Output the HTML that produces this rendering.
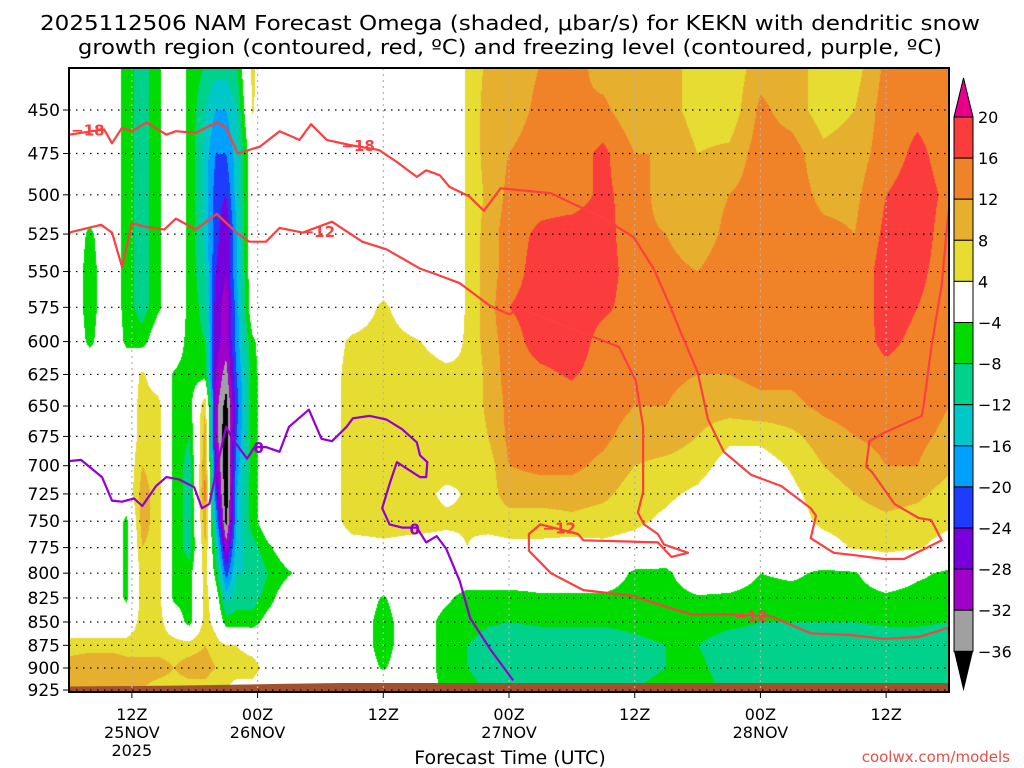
<!DOCTYPE html>
<html><head><meta charset="utf-8">
<style>
html,body{margin:0;padding:0;background:#fff;}
#wrap{position:relative;width:1024px;height:768px;overflow:hidden;font-family:"DejaVu Sans","Liberation Sans",sans-serif;}
canvas{position:absolute;left:69px;top:68px;}
svg{position:absolute;left:0;top:0;}
</style></head>
<body>
<div id="wrap">
<canvas id="shade" width="880" height="624"></canvas>
<svg id="ov" width="1024" height="768">
<text x="510" y="30" text-anchor="middle" font-size="20" textLength="940" lengthAdjust="spacingAndGlyphs">2025112506 NAM Forecast Omega (shaded, μbar/s) for KEKN with dendritic snow</text>
<text x="510" y="54" text-anchor="middle" font-size="20" textLength="864" lengthAdjust="spacingAndGlyphs">growth region (contoured, red, ºC) and freezing level (contoured, purple, ºC)</text>
<text x="510" y="764" text-anchor="middle" font-size="19">Forecast Time (UTC)</text>
<text x="1010" y="762" text-anchor="end" font-size="15" fill="#e0504a">coolwx.com/models</text>
<g id="grid"></g>
<g id="lines"></g>
<g id="axes"></g>
<g id="cbar"></g>
</svg>
</div>
<script>
// ---- data ----
const levels=[425,450,475,500,525,550,575,600,625,650,675,700,725,750,775,800,825,850,875,900,925];
const hours=[0,2,4,5.5,7,8.5,10,11.5,13,14,15,16,17.5,19,21,24,27,30,33,36,38,40,42,45,48,51,54,57,60,63,66,69,72,75,78,81,84];
const omegaCols=[
[0,0,0,0,0,0,0,0,0,0,0,0,0,0,0,0,0,0,6,10,10],
[0,0,0,0,-5,-6,-6,-5,0,0,0,0,0,0,0,0,0,0,6,12,10],
[0,0,0,0,0,0,0,0,0,0,0,0,0,0,0,0,0,0,6,12,10],
[-6,-6,-6,-6,-6,-6,-6,-5,0,0,0,0,0,-5,-5,-5,-5,0,6,10,8],
[-10,-10,-10,-10,-10,-10,-10,-6,5,6,6,8,10,10,8,6,6,6,6,10,8],
[-5,-5,-5,-5,-5,-5,-5,0,0,6,6,6,6,6,6,6,6,6,6,10,6],
[0,0,0,0,0,0,0,0,-4.5,-5,-5,-5,-5,-5,-5,-5,-5,0,6,8,6],
[-5,-5,-5,-5,-5,-5,-5,-6,-6,-6,-8,-10,-10,-10,-10,-6,-6,-6,6,10,6],
[-8,-12,-14,-14,-14,-12,-10,-8,-6,8,10,12,14,10,8,6,6,6,8,10,6],
[-10,-16,-20,-22,-22,-24,-26,-26,-28,-30,-30,-26,-22,-16,-10,-6,0,2,6,8,4],
[-10,-16,-20,-24,-28,-28,-30,-30,-34,-38,-40,-40,-40,-38,-30,-22,-14,-6,4,6,4],
[-8,-12,-14,-14,-16,-16,-18,-18,-20,-22,-20,-18,-16,-16,-14,-12,-10,-6,4,6,2],
[5,4.5,0,0,0,0,0,-5,-6,-6,-6,-6,-6,-6,-10,-12,-10,-6,2,6,2],
[0,0,0,0,0,0,0,0,0,0,0,0,0,0,-5,-8,-6,-2,0,2,0],
[0,0,0,0,0,0,0,0,0,0,0,0,0,0,0,-4.5,0,0,0,0,0],
[0,0,0,0,0,0,0,0,0,0,0,0,0,0,0,0,0,0,0,0,0],
[0,0,0,0,0,0,0,5,6,6,6,6,6,6,2,0,0,0,0,0,0],
[0,0,0,0,0,0,5,6,6,6,6,6,6,6,3,0,-4.5,-6,-6,-4.5,0],
[0,0,0,0,0,0,0,4.5,6,6,6,6,6,6,2,0,0,0,0,0,0],
[0,0,0,0,0,0,0,2,5,6,6,6,3,5,2,0,-3,-6,-6,-6,-5],
[4.5,4.5,4.5,4.5,4.5,4.5,4.5,4.5,4.5,4.5,4.5,4.5,4.5,4.5,4,0,-6,-6,-8,-8,-6],
[9,10,10,9,10,10,10,10,9,9,8,6,6,6,2,0,-6,-7.5,-10,-10,-9],
[10,10,12,13,14,14,16,14,14,13,13,12,10,6,3,0,-6,-8,-10,-10,-9],
[12,13,14,14,17,18,18,18,15,14,14,13,10,6,3,0,-5,-7.5,-10,-10,-9],
[14,12,14,14,18,19,19,19,16.5,14,14,13,10,7,2,0,-5,-7.5,-10,-10,-9],
[10,13,17,17,18,18,17,14,14,14,13,11,9,6,3,0,-5,-7.5,-10,-10,-9],
[8,9,12,14,13,14,14,14,13,12,10,8,6,5,2,-5,-6,-7,-9,-9,-8],
[10,10,12,10,12,13,14,14,13,12,10,7,5,3,0,-5,-6,-6,-8,-8,-7],
[6,6,8,10,10,12,13,13,12,10,8,6,3,0,0,0,-4.5,-6,-8,-7,-6],
[5,5,9,12,13,14,14,14,12,10,5,2,0,0,0,0,-5,-7,-10,-10,-9],
[10,13,14,14,14,14,14,14,13,11,5,2,0,0,0,-4,-6,-8,-10,-11,-9],
[10,10,14,14,14,15,14,14,13,11,7,4.5,3,2,0,-3,-6,-8,-10,-11,-9],
[6,6,9,11,13,14,14,14,14,13,10,8,6,5,2,-5,-6,-8,-10,-11,-9],
[6,8,10,11,12,13,13,14,14,14,12,10,8,6,4.5,-4.5,-6,-8,-10,-11,-9],
[13,14,14,16,17,18,18,17,15,14,13,12,10,7,5,0,-5,-7.5,-10,-10,-9],
[14,15,17,18,18,17,16,15,14,14,13,12,9,6,4.5,-3,-6,-7.5,-10,-10,-9],
[14,14,14,15,14,14,14,14,13,12,11,9,6,5,2,-5,-6,-8,-10,-10,-9]
];
const m18Hours=[0,3.35,4.1,5.07,6,7.4,9.3,10.2,12.1,14.1,15,16.1,18.2,20.1,22,23.1,24.6,26.8,29.6,31.3,33.2,34.1,35.4,36.3,38.2,39.6,41.2,46,50.8,53.9,55.8,57.2,58.7,60,61,62.5,65.1,68,70.8,71.3,70.8,73,74.7,77.8,79.7,83.3,82.3,81.1,78.8,76.6,76.1,76.4,77.8,81.4,81.6,82.3,83.3,83.9,84];
const m18Pres=[464,461,469,460,462,457,464,462,463,457,460,475,471,462,467,458,467,470,473,480,489,485,488,495,501,510,496,499,514,527,548,571,599,623,661,688,708,718,738,745,766,780,782,786,786,768,749,747,734,705,701,679,672,658,648,605,559,514,510];
const m12Hours=[0,3.06,4.1,5.07,6,7.8,9.1,10.2,12.1,14.1,16,17.2,18.8,20.1,22.3,25.1,28,30.3,33.5,35.1,37.3,40.2,42,43.1,52.5,54.1,54.8,54.8,54.3,54.9,56.2,56.8,59.1,57.5,56.2,49.1,48.6,45,43.9,43.9,46,49.1,53.9,55.5,59.4,62.9,67,70.8,74.7,77.8,81.1,84];
const m12Pres=[524,519,524,547,518,521,522,515,522,512,524,530,530,521,524,517,530,535,548,552,558,574,580,576,604,630,667,723,742,753,762,772,780,784,770,768,762,753,762,778,800,817,823,829,842,842,844,862,864,868,866,856];
const frzHours=[0,1.15,3.15,4.1,5.07,6.2,7,8.3,9.3,10.5,11.95,12.7,13.4,14.3,15,15.6,17,17.7,18.8,20.1,21,22.9,24.1,25.1,26.5,27.1,28.7,30.3,31.8,33.2,33.5,34.2,34.1,33.5,31.3,30.6,29.9,30.6,31.8,33.2,34.1,35.1,36,37.3,38.3,40.2,42.4];
const frzPres=[696,695,710,731,732,729,736,718,710,712,719,738,734,694,667,677,694,684,684,688,667,653,677,679,667,660,658,661,669,680,691,697,710,710,697,716,738,753,756,756,770,764,776,808,846,879,914];
const groundHours=[0,10,20,26,40,60,84];
const groundPres=[921,920,918,917,917,917,917];
const yTicks=[450,475,500,525,550,575,600,625,650,675,700,725,750,775,800,825,850,875,900,925];
const xTickHours=[6,18,30,42,54,66,78];
const xTickTimes=["12Z","00Z","12Z","00Z","12Z","00Z","12Z"];
const xTickDates=["25NOV","26NOV","","27NOV","","28NOV",""];
const cbarValues=[20,16,12,8,4,-4,-8,-12,-16,-20,-24,-28,-32,-36];
const cbarColors=["#fa3c3c","#f08228","#e6af2d","#e6dc32","#ffffff","#00dc00","#00d28c","#00c8c8","#00a0ff","#1e3cff","#7800dc","#a000c8","#a0a0a0"];

// ---- axes ----
const X0=69,X1=949,Y0=68,Y1=692;
const X=h=>X0+h*(X1-X0)/84;
const Y=p=>110+805*Math.log(p/450);
const NS="http://www.w3.org/2000/svg";
function mk(tag,parent){const e=document.createElementNS(NS,tag);parent.appendChild(e);return e;}

function colorFor(v){
  if(v>=20)return [230,0,138];
  if(v>=16)return [250,60,60];
  if(v>=12)return [240,130,40];
  if(v>=8)return [230,175,45];
  if(v>=4)return [230,220,50];
  if(v>-4)return [255,255,255];
  if(v>-8)return [0,220,0];
  if(v>-12)return [0,210,140];
  if(v>-16)return [0,200,200];
  if(v>-20)return [0,160,255];
  if(v>-24)return [30,60,255];
  if(v>-28)return [120,0,220];
  if(v>-32)return [160,0,200];
  if(v>-36)return [160,160,160];
  return [0,0,0];
}
// shading
(function(){
  const cv=document.getElementById('shade');const ctx=cv.getContext('2d');
  const W=cv.width,H=cv.height;const img=ctx.createImageData(W,H);
  const lnL=levels.map(Math.log);
  const hStep=84/(X1-X0);
  const rowIdx=[],rowT=[];
  for(let py=0;py<H;py++){
    const y=Y0+py+0.5;const lp=Math.log(450)+(y-110)/805;
    let j=0;while(j<lnL.length-2&&lp>lnL[j+1])j++;
    let t=(lp-lnL[j])/(lnL[j+1]-lnL[j]);t=Math.max(0,Math.min(1,t));
    rowIdx.push(j);rowT.push(t);
  }
  for(let px=0;px<W;px++){
    const h=(px+0.5)*hStep;
    let i=0;while(i<hours.length-2&&h>hours[i+1])i++;
    let s=(h-hours[i])/(hours[i+1]-hours[i]);s=Math.max(0,Math.min(1,s));
    const a=omegaCols[i],b=omegaCols[i+1];
    for(let py=0;py<H;py++){
      const j=rowIdx[py],t=rowT[py];
      const v0=a[j]*(1-t)+a[j+1]*t, v1=b[j]*(1-t)+b[j+1]*t;
      const c=colorFor(v0*(1-s)+v1*s);
      const k=(py*W+px)*4;img.data[k]=c[0];img.data[k+1]=c[1];img.data[k+2]=c[2];img.data[k+3]=255;
    }
  }
  ctx.putImageData(img,0,0);
})();

const grid=document.getElementById('grid'),lines=document.getElementById('lines'),axes=document.getElementById('axes'),cbar=document.getElementById('cbar');
// ground
{
  let d='M'+X(groundHours[0])+','+Y1;
  groundHours.forEach((h,i)=>{d+=' L'+X(h)+','+Y(groundPres[i]);});
  d+=' L'+X1+','+Y1+' Z';
  const g=mk('path',grid);g.setAttribute('d',d);g.setAttribute('fill','#a0522d');
  
  
}
// gridlines
yTicks.forEach(p=>{
  const l=mk('line',grid);l.setAttribute('x1',X0);l.setAttribute('x2',X1);l.setAttribute('y1',Y(p));l.setAttribute('y2',Y(p));
  l.setAttribute('stroke','#000');l.setAttribute('stroke-width','1.2');l.setAttribute('stroke-dasharray','1.5,5.5');
  
  
  const t=mk('line',axes);t.setAttribute('x1',X0-6);t.setAttribute('x2',X0);t.setAttribute('y1',Y(p));t.setAttribute('y2',Y(p));t.setAttribute('stroke','#000');
  
  
  const tx=mk('text',axes);tx.setAttribute('x',X0-9);tx.setAttribute('y',Y(p)+6);tx.setAttribute('text-anchor','end');tx.setAttribute('font-size','17');tx.textContent=p;
  
  
});
xTickHours.forEach((h,i)=>{
  const l=mk('line',grid);l.setAttribute('x1',X(h));l.setAttribute('x2',X(h));l.setAttribute('y1',Y0);l.setAttribute('y2',Y1);
  l.setAttribute('stroke','#b4b4b4');l.setAttribute('stroke-width','1.2');l.setAttribute('stroke-dasharray','2,4');
  
  
  const t=mk('line',axes);t.setAttribute('x1',X(h));t.setAttribute('x2',X(h));t.setAttribute('y1',Y1);t.setAttribute('y2',Y1+6);t.setAttribute('stroke','#000');
  
  
  const a=mk('text',axes);a.setAttribute('x',X(h));a.setAttribute('y',720);a.setAttribute('text-anchor','middle');a.setAttribute('font-size','16');a.textContent=xTickTimes[i];
  
  
  if(xTickDates[i]){const b=mk('text',axes);b.setAttribute('x',X(h));b.setAttribute('y',738);b.setAttribute('text-anchor','middle');b.setAttribute('font-size','16');b.textContent=xTickDates[i];
  
  }
});
{const y=mk('text',axes);y.setAttribute('x',X(6));y.setAttribute('y',756);y.setAttribute('text-anchor','middle');y.setAttribute('font-size','16');y.textContent='2025';

}
// frame
{const r=mk('rect',axes);r.setAttribute('x',X0);r.setAttribute('y',Y0);r.setAttribute('width',X1-X0);r.setAttribute('height',Y1-Y0);r.setAttribute('fill','none');r.setAttribute('stroke','#000');r.setAttribute('stroke-width','2');

}

// contour lines
function drawLine(hs,ps,color,name){
  const pts=hs.map((h,i)=>X(h).toFixed(1)+','+Y(ps[i]).toFixed(1)).join(' ');
  const pl=mk('polyline',lines);pl.setAttribute('points',pts);pl.setAttribute('fill','none');pl.setAttribute('stroke',color);pl.setAttribute('stroke-width','2.2');pl.setAttribute('stroke-linejoin','round');
  
  
}
drawLine(m18Hours,m18Pres,'#fa4040','contour-minus18');
drawLine(m12Hours,m12Pres,'#fa4040','contour-minus12');
drawLine(frzHours,frzPres,'#9400d3','freezing-level-line');
function lab(h,p,txt,color){
  const t=mk('text',lines);t.setAttribute('x',X(h));t.setAttribute('y',Y(p)+6);t.setAttribute('text-anchor','middle');t.setAttribute('font-size','15');t.setAttribute('font-weight','bold');t.setAttribute('fill',color);
  t.textContent=txt;
  
  
}
lab(1.8,461,'−18','#fa4040');lab(27.6,470,'−18','#fa4040');
lab(23.8,523,'−12','#fa4040');lab(46.8,756,'−12','#fa4040');lab(65.1,843,'−12','#fa4040');
lab(18.1,684,'0','#9400d3');lab(33.0,757,'0','#9400d3');

// colorbar
{
  const cx=954,cw=19,top=117,step=41.1;
  const tri=mk('polygon',cbar);tri.setAttribute('points',`${cx},${top} ${cx+cw},${top} ${cx+cw/2},78`);tri.setAttribute('fill','#e6008a');tri.setAttribute('stroke','#000');
  
  
  cbarColors.forEach((c,i)=>{
    const r=mk('rect',cbar);r.setAttribute('x',cx);r.setAttribute('y',top+i*step);r.setAttribute('width',cw);r.setAttribute('height',step);r.setAttribute('fill',c);r.setAttribute('stroke','#000');
    
    
  });
  const bt=top+cbarColors.length*step;
  const tri2=mk('polygon',cbar);tri2.setAttribute('points',`${cx},${bt} ${cx+cw},${bt} ${cx+cw/2},${bt+40}`);tri2.setAttribute('fill','#000');
  
  
  cbarValues.forEach((v,i)=>{
    const t=mk('text',cbar);t.setAttribute('x',978);t.setAttribute('y',top+i*step+6);t.setAttribute('font-size','16');
    t.textContent=v<0?'−'+(-v):String(v);
    
    
  });
}
</script>
</body></html>
